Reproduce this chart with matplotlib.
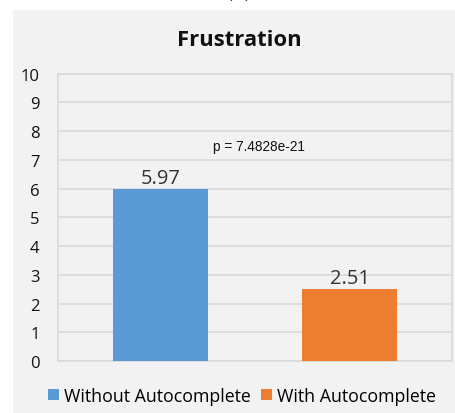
import matplotlib
matplotlib.use("Agg")
import matplotlib.pyplot as plt
from matplotlib.patches import Rectangle

categories = ["Without Autocomplete", "With Autocomplete"]
values = [5.97, 2.51]
colors = ["#5b9bd5", "#ed7d31"]
yticks = list(range(0, 11))
title = "Frustration"
p_text = "p = 7.4828e-21"

W, H = 455, 414
fig = plt.figure(figsize=(W / 100, H / 100), dpi=100, facecolor="white")

# gray chart panel
fig.patches.append(Rectangle((13 / W, 0), 1 - 13 / W, 1 - 11 / H,
                             transform=fig.transFigure, facecolor="#f2f2f2",
                             edgecolor="none", zorder=-5))
fig.text(239 / W, 1 + 8 / H, "(e)", ha="center", va="center", fontsize=16,
         family="Lato", color="#222222")

ax = fig.add_axes([57.5 / W, 1 - 362 / H, (452 - 57.5) / W, (362 - 74.7) / H])
ax.set_zorder(2)
ax.set_facecolor("#f2f2f2")
x = list(range(len(categories)))
bars = ax.bar(x, values, width=0.503, color=colors, zorder=3)
ax.set_xlim(-0.545, 1.542)
ax.set_ylim(0, 10)
ax.set_yticks(yticks)
ax.set_xticks([])
ax.tick_params(axis="y", length=0, pad=13, labelsize=12, labelcolor="#111111")
for lab in ax.get_yticklabels():
    lab.set_family("Open Sans")
    lab.set_horizontalalignment("right")
ax.grid(axis="y", color="#d9d9d9", linewidth=1.2, zorder=0)
for s in ax.spines.values():
    s.set_color("#d9d9d9")
    s.set_linewidth(1.2)

for xi, v in zip(x, values):
    ax.text(xi, v + 0.04, f"{v:.2f}", ha="center", va="bottom", fontsize=14.5,
            family="Open Sans", color="#333333", zorder=4)

ax.text(0.52, 7.5, p_text, ha="center", va="center", fontsize=9.8,
        family="Liberation Sans", color="#111111")

fig.text(239 / W, 1 - 40 / H, title, ha="center", va="center", fontsize=15.8,
         fontweight="bold", family="Open Sans", color="#111111")

handles = [Rectangle((0, 0), 1, 1, facecolor=c) for c in colors]
fig.legend(handles, categories, loc="center", bbox_to_anchor=(242 / W, 1 - 397 / H),
           ncol=2, frameon=False, handlelength=0.6, handleheight=0.6,
           handletextpad=0.3, columnspacing=0.6, prop={"family": "Open Sans", "size": 12.8})

fig.savefig("out.png", dpi=100, facecolor="white")
